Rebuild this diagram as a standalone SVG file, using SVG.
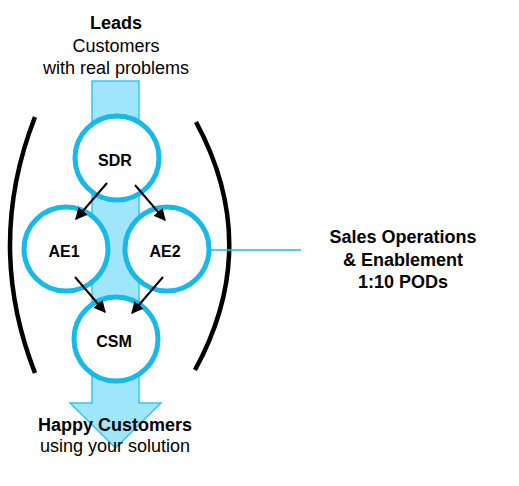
<svg xmlns="http://www.w3.org/2000/svg" width="519" height="486" viewBox="0 0 519 486">
<defs>
<style>
.t{font-family:"Liberation Sans",Arial,sans-serif;font-size:18px;fill:#000;text-anchor:middle}
.b{font-weight:bold}
.n{font-family:"Liberation Sans",Arial,sans-serif;font-size:16px;font-weight:bold;fill:#000;text-anchor:middle}
.c{fill:#fff;stroke:#17b9e8;stroke-width:5}
.br{fill:none;stroke:#000;stroke-width:4.5;stroke-linecap:butt}
.e{stroke:#000;stroke-width:2;fill:none;marker-end:url(#ah)}
</style>
<marker id="ah" viewBox="0 0 10 10" refX="9" refY="5" markerWidth="6" markerHeight="6" orient="auto" markerUnits="strokeWidth">
<path d="M0,0 L10,5 L0,10 z" fill="#000"/>
</marker>
</defs>
<rect width="519" height="486" fill="#fff"/>
<g id="flow-arrow">
<path d="M92,81 H139 V403 H161 L115.5,448 L70,403 H92 Z" fill="#9fe6fa" stroke="#35c6ee" stroke-width="1.5"/>
</g>
<g id="brackets">
<path class="br" d="M35,117 Q-15,245 35,373"/>
<path class="br" d="M196,122 Q263,246 195,370"/>
</g>
<g id="sdr"><circle class="c" cx="117" cy="158" r="42"/><text class="n" x="115" y="166">SDR</text></g>
<g id="ae1"><circle class="c" cx="66" cy="249" r="42"/><text class="n" x="64" y="257">AE1</text></g>
<g id="ae2"><circle class="c" cx="167" cy="249" r="42"/><text class="n" x="165" y="257">AE2</text></g>
<g id="csm"><circle class="c" cx="116" cy="339" r="42"/><text class="n" x="114" y="347">CSM</text></g>
<g id="connectors">
<line class="e" x1="107" y1="183" x2="76" y2="219"/>
<line class="e" x1="135" y1="185" x2="165" y2="220"/>
<line class="e" x1="75" y1="277" x2="105" y2="312"/>
<line class="e" x1="163" y1="277" x2="132" y2="313"/>
<line x1="211" y1="250" x2="301" y2="250" stroke="#17b9e8" stroke-width="1.5"/>
</g>
<g id="leads">
<text class="t b" x="116" y="29">Leads</text>
<text class="t" x="116" y="52">Customers</text>
<text class="t" x="116" y="74">with real problems</text>
</g>
<g id="happy">
<text class="t b" x="115" y="431">Happy Customers</text>
<text class="t" x="115" y="452">using your solution</text>
</g>
<g id="sales-ops">
<text class="t b" x="403" y="243">Sales Operations</text>
<text class="t b" x="403" y="266">&amp; Enablement</text>
<text class="t b" x="403" y="288">1:10 PODs</text>
</g>
</svg>
